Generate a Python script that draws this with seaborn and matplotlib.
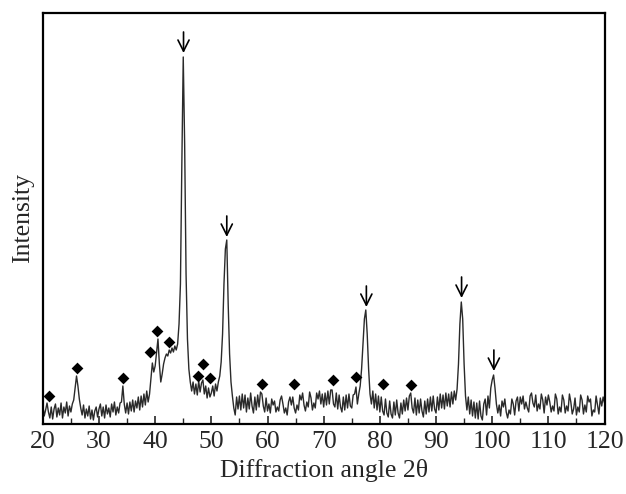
import numpy as np
import matplotlib
matplotlib.use("Agg")
import matplotlib.pyplot as plt
from matplotlib.ticker import MultipleLocator
import seaborn as sns

# intensity, 0.25 deg steps from 20 to 120 (arbitrary units)
intensity = [
    19, 8, 14, 21, 12, 6, 17, 5, 15, 20, 7, 16, 9, 21, 6, 17, 11, 22, 8, 18,            # 20-25
    12, 20, 24, 36, 48, 38, 25, 16, 9, 19, 6, 15, 8, 18, 5, 14, 4, 13, 17, 7,           # 25-30
    15, 20, 8, 17, 6, 19, 10, 16, 7, 20, 12, 22, 9, 17, 11, 21, 22, 38, 20, 11,         # 30-35
    21, 10, 22, 13, 24, 12, 23, 16, 27, 14, 28, 17, 30, 19, 33, 22, 30, 45, 61, 52,     # 35-40
    58, 72, 85, 60, 42, 50, 60, 66, 70, 68, 74, 71, 76, 72, 78, 74, 80, 100, 140, 260,  # 40-45
    367, 280, 150, 85, 55, 42, 33, 42, 30, 40, 29, 43, 32, 41, 44, 30, 38, 26, 36, 27,  # 45-50
    31, 38, 28, 40, 33, 42, 48, 62, 90, 140, 175, 184, 120, 70, 42, 28, 16, 9, 27, 15,  # 50-55
    28, 14, 30, 16, 29, 12, 26, 15, 31, 18, 11, 27, 14, 29, 17, 32, 30, 18, 12, 26,     # 55-60
    13, 20, 11, 25, 19, 23, 12, 17, 13, 24, 28, 20, 11, 16, 9, 22, 27, 19, 27, 16,      # 60-65
    11, 19, 14, 29, 24, 31, 19, 13, 22, 17, 32, 26, 14, 21, 16, 31, 25, 33, 20, 30,     # 65-70
    17, 31, 19, 33, 20, 34, 34, 20, 17, 31, 15, 29, 17, 12, 27, 14, 29, 16, 30, 18,     # 70-75
    16, 29, 30, 37, 20, 30, 38, 55, 80, 105, 114, 90, 55, 30, 20, 33, 16, 30, 14, 28,   # 75-80
    12, 27, 13, 9, 25, 11, 7, 23, 10, 6, 22, 9, 24, 11, 6, 21, 10, 24, 13, 26,          # 80-85
    14, 28, 31, 16, 11, 26, 9, 24, 11, 25, 13, 7, 23, 10, 25, 12, 27, 13, 28, 15,       # 85-90
    11, 27, 14, 30, 16, 29, 15, 31, 18, 30, 17, 32, 20, 33, 24, 35, 60, 100, 122, 105,  # 90-95
    60, 28, 14, 27, 10, 24, 8, 22, 6, 21, 5, 23, 8, 4, 20, 25, 9, 28, 16, 36,           # 95-100
    44, 49, 36, 20, 11, 19, 8, 23, 17, 25, 12, 6, 14, 10, 25, 20, 9, 23, 27, 13,        # 100-105
    27, 20, 28, 15, 22, 16, 12, 28, 31, 21, 17, 29, 13, 20, 15, 30, 24, 11, 27, 19,     # 105-110
    29, 22, 12, 18, 13, 30, 25, 10, 17, 12, 29, 24, 11, 18, 13, 30, 22, 10, 15, 26,     # 110-115
    9, 17, 12, 29, 24, 10, 19, 12, 28, 22, 25, 8, 14, 12, 28, 19, 10, 26, 18, 27,       # 115-120
    21,
]
two_theta = np.linspace(20, 120, len(intensity))

# peaks marked with arrows (main phase) and diamonds (second phase)
arrow_angle = [45.05, 52.75, 77.6, 94.55, 100.3]
arrow_tip = [371, 187, 117, 126, 53]
diamond_angle = [21.1, 26.0, 34.3, 39.0, 40.4, 42.5, 47.7, 48.6, 49.8,
                 59.1, 64.8, 71.6, 75.7, 80.5, 85.5]
diamond_height = [28, 56, 46, 72, 93, 82, 48, 60, 46,
                  40, 40, 44, 47, 40, 39]

sns.set_style("ticks")
plt.rcParams["font.family"] = ["Liberation Serif", "DejaVu Serif"]

fig = plt.figure(figsize=(6.26, 4.94), dpi=100)
ax = fig.add_axes([0.0684, 0.1417, 0.8973, 0.8320])

sns.lineplot(x=two_theta, y=intensity, ax=ax, color="#2a2a2a", lw=1.0, estimator=None)
sns.scatterplot(x=diamond_angle, y=diamond_height, ax=ax, marker="D", s=36,
                color="black", linewidth=0, zorder=3)
for xa, ya in zip(arrow_angle, arrow_tip):
    ax.annotate("", xy=(xa, ya), xytext=(xa, ya + 21),
                arrowprops=dict(arrowstyle="->", color="black", lw=1.2,
                                mutation_scale=20, shrinkA=0, shrinkB=0))

ax.set_xlim(20, 120)
ax.set_ylim(0, 411)
ax.set_xticks(range(20, 121, 10))
ax.xaxis.set_minor_locator(MultipleLocator(5))
ax.set_yticks([])
ax.tick_params(axis="x", which="major", direction="in", length=6, width=1.2,
               pad=5, labelsize=18.5, top=False)
ax.tick_params(axis="x", which="minor", direction="in", length=4, width=1.0, top=False)
for sp in ax.spines.values():
    sp.set_linewidth(1.6)
    sp.set_color("black")

ax.set_xlabel("Diffraction angle 2θ", fontsize=18.5, labelpad=4.5)
ax.set_ylabel("Intensity", fontsize=18.5, labelpad=6)

plt.savefig("out.png", dpi=100)
